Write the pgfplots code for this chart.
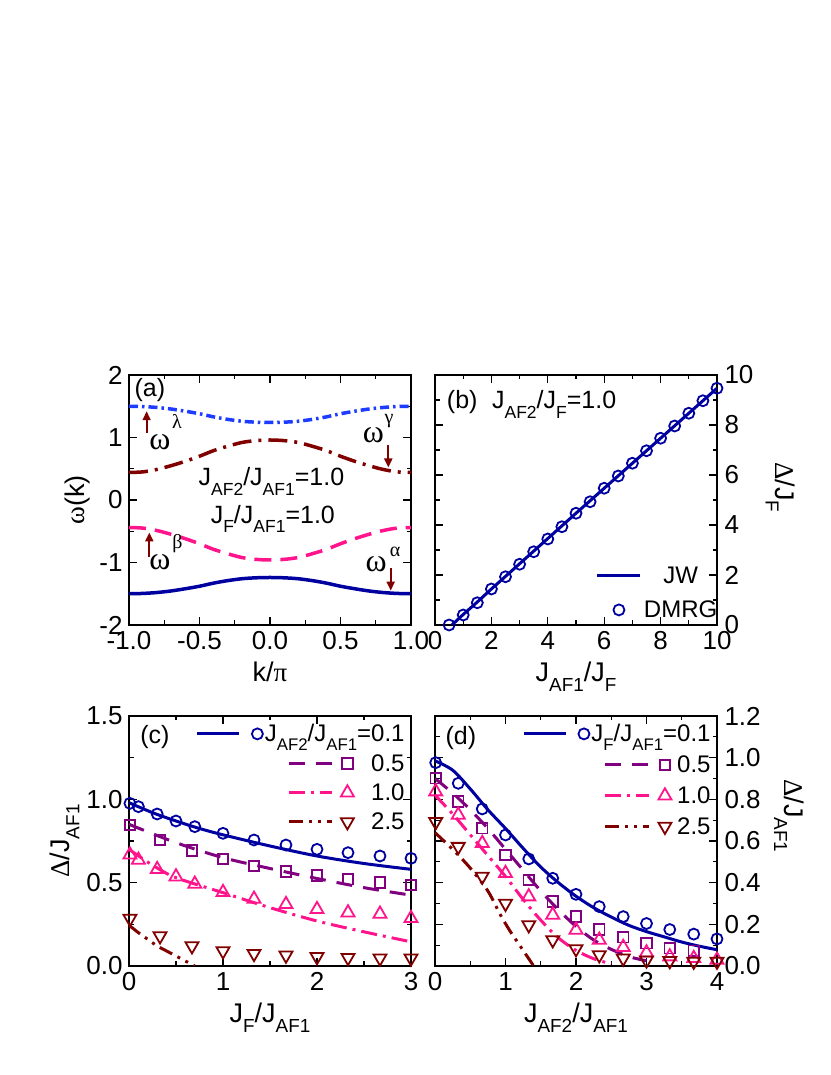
\documentclass[border=0pt]{standalone}
\usepackage{fontspec}
\setmainfont{Liberation Sans}
\newfontfamily\gr{Liberation Serif}
\usepackage{pgfplots}
\pgfplotsset{compat=1.18}
\usetikzlibrary{arrows.meta}
\definecolor{navy}{RGB}{0,0,160}
\definecolor{bblue}{RGB}{30,60,255}
\definecolor{dred}{RGB}{128,0,0}
\definecolor{hpink}{RGB}{255,20,140}
\definecolor{purp}{RGB}{128,0,128}
\newcommand\sub[1]{\raisebox{-0.38em}{\scalebox{0.7}{#1}}}
\newcommand\fs{\fontsize{26}{31}\selectfont}
\newcommand\ft{\fontsize{25}{30}\selectfont}
\newcommand\fg{\fontsize{24}{29}\selectfont}
\newcommand\fl{\fontsize{27}{32}\selectfont}
\pgfplotsset{
  panel/.style={
    scale only axis, width=282pt, height=250pt,
    axis line style={line width=1.6pt},
    tick style={black, line width=1.3pt},
    major tick length=8pt, minor tick length=4.5pt,
    tick align=inside,
    /pgf/number format/assume math mode=true,
    tick label style={font=\fs},
    xticklabel style={yshift=-3pt},
    label style={font=\fl},
    xlabel style={yshift=-5pt},
    legend style={font=\fg, draw=none, fill=none, inner sep=0pt, nodes={inner sep=2pt}},
  },
  onedec/.style={/pgf/number format/fixed, /pgf/number format/fixed zerofill, /pgf/number format/precision=1},
  llabel/.style={yticklabel style={xshift=-3pt},
    every axis y label/.style={at={(axis description cs:#1,0.5)}, rotate=90, anchor=center, font=\fl}},
  rlabel/.style 2 args={yticklabel style={xshift=4pt},
    every axis y label/.style={at={(axis description cs:#1,#2)}, rotate=-90, anchor=center, font=\fl}},
}
\begin{document}
\begin{tikzpicture}[x=1pt,y=1pt]
\path[use as bounding box] (0,0) rectangle (830,1075);
% ---------------- (a)
\begin{axis}[panel, llabel=-0.184, at={(129pt,450pt)}, anchor=south west,
  xmin=-1, xmax=1, ymin=-2, ymax=2,
  xtick={-1,-0.5,0,0.5,1}, ytick={-2,-1,0,1,2},
  minor x tick num=1, minor y tick num=1,
  xticklabel style={onedec},
  xlabel={k/{\gr π}}, ylabel={{\gr ω}(k)}, clip=false]
\addplot[bblue, line width=3.5pt, smooth, dash pattern=on 9pt off 4pt on 2.5pt off 4pt] coordinates {
(-1,1.5)(-0.9,1.495)(-0.8,1.48)(-0.7,1.455)(-0.6,1.42)(-0.5,1.38)(-0.4,1.33)(-0.3,1.29)(-0.2,1.26)(-0.1,1.245)(0,1.24)
(0.1,1.245)(0.2,1.26)(0.3,1.29)(0.4,1.33)(0.5,1.38)(0.6,1.42)(0.7,1.455)(0.8,1.48)(0.9,1.495)(1,1.5)};
\addplot[dred, line width=3.5pt, smooth, dash pattern=on 19pt off 7pt on 3pt off 7pt] coordinates {
(-1,0.44)(-0.9,0.45)(-0.8,0.49)(-0.7,0.55)(-0.6,0.62)(-0.5,0.70)(-0.4,0.79)(-0.3,0.86)(-0.2,0.92)(-0.1,0.95)(0,0.96)
(0.1,0.95)(0.2,0.92)(0.3,0.86)(0.4,0.79)(0.5,0.70)(0.6,0.62)(0.7,0.55)(0.8,0.49)(0.9,0.45)(1,0.44)};
\addplot[hpink, line width=3.5pt, smooth, dash pattern=on 17pt off 9pt] coordinates {
(-1,-0.44)(-0.9,-0.45)(-0.8,-0.49)(-0.7,-0.55)(-0.6,-0.62)(-0.5,-0.70)(-0.4,-0.79)(-0.3,-0.86)(-0.2,-0.92)(-0.1,-0.95)(0,-0.96)
(0.1,-0.95)(0.2,-0.92)(0.3,-0.86)(0.4,-0.79)(0.5,-0.70)(0.6,-0.62)(0.7,-0.55)(0.8,-0.49)(0.9,-0.45)(1,-0.44)};
\addplot[navy, line width=3.5pt, smooth] coordinates {
(-1,-1.5)(-0.9,-1.495)(-0.8,-1.48)(-0.7,-1.455)(-0.6,-1.42)(-0.5,-1.38)(-0.4,-1.33)(-0.3,-1.29)(-0.2,-1.26)(-0.1,-1.245)(0,-1.24)
(0.1,-1.245)(0.2,-1.26)(0.3,-1.29)(0.4,-1.33)(0.5,-1.38)(0.6,-1.42)(0.7,-1.455)(0.8,-1.48)(0.9,-1.495)(1,-1.5)};
\node[font=\ft] at (axis description cs:0.074,0.94) {(a)};
\draw[dred, line width=2pt, -{Triangle[length=9pt,width=8pt]}] (axis cs:-0.875,1.07) -- (axis cs:-0.875,1.42);
\draw[dred, line width=2pt, -{Triangle[length=9pt,width=8pt]}] (axis cs:-0.856,-0.907) -- (axis cs:-0.856,-0.52);
\draw[dred, line width=2pt, -{Triangle[length=9pt,width=8pt]}] (axis cs:0.839,0.88) -- (axis cs:0.839,0.52);
\draw[dred, line width=2pt, -{Triangle[length=9pt,width=8pt]}] (axis cs:0.856,-1.09) -- (axis cs:0.856,-1.45);
\node[font=\fontsize{32}{36}\selectfont\gr, anchor=base] at (axis cs:-0.78,0.8) {ω};
\node[font=\fontsize{20}{24}\selectfont\gr] at (axis cs:-0.66,1.264) {λ};
\node[font=\fontsize{32}{36}\selectfont\gr, anchor=base] at (axis cs:-0.78,-1.12) {ω};
\node[font=\fontsize{20}{24}\selectfont\gr] at (axis cs:-0.656,-0.696) {β};
\node[font=\fontsize{32}{36}\selectfont\gr, anchor=base] at (axis cs:0.734,0.912) {ω};
\node[font=\fontsize{20}{24}\selectfont\gr] at (axis cs:0.844,1.264) {γ};
\node[font=\fontsize{32}{36}\selectfont\gr, anchor=base] at (axis cs:0.752,-1.152) {ω};
\node[font=\fontsize{20}{24}\selectfont\gr] at (axis cs:0.887,-0.824) {α};
\node[font=\ft, anchor=base] at (axis cs:0.01,0.224) {J\sub{AF2}/J\sub{AF1}=1.0};
\node[font=\ft, anchor=base] at (axis cs:0.02,-0.37) {J\sub{F}/J\sub{AF1}=1.0};
\end{axis}
% ---------------- (b)
\begin{axis}[panel, at={(435pt,450pt)}, anchor=south west,
  xmin=0, xmax=10, ymin=0, ymax=10,
  xtick={0,2,4,6,8,10}, ytick={0,2,4,6,8,10},
  minor x tick num=1, minor y tick num=1,
  yticklabel pos=right,
  xlabel={J\sub{AF1}/J\sub{F}}, ylabel={{\gr Δ}/J\sub{F}},
  rlabel={1.225}{0.55},
  legend cell align=center,
  legend style={at={(axis description cs:0.57,0.015)}, anchor=south west, row sep=12pt}]
\addplot[navy, line width=3pt, legend image code/.code={\draw (0pt,0pt) -- (43pt,0pt);}] coordinates {
(0.6,0)(1,0.42)(1.5,0.92)(2,1.44)(3,2.45)(4,3.46)(5,4.47)(6,5.47)(7,6.47)(8,7.47)(9,8.47)(10,9.47)};
\addlegendentry{JW}
\addplot[navy, only marks, mark=o, mark size=5.5pt, line width=1.8pt, legend image code/.code={\draw plot coordinates {(21.5pt,0pt)};}] coordinates {
(0.5,0.0)(1,0.4)(1.5,0.89)(2,1.44)(2.5,1.93)(3,2.43)(3.5,2.93)(4,3.44)(4.5,3.93)(5,4.47)(5.5,4.93)(6,5.47)(6.5,5.96)(7,6.47)(7.5,6.97)(8,7.47)(8.5,7.96)(9,8.47)(9.5,8.97)(10,9.47)};
\addlegendentry{DMRG}
\node[font=\ft, anchor=base west] at (axis description cs:0.03,0.865) {(b)};
\node[font=\ft, anchor=base west] at (axis description cs:0.19,0.865) {J\sub{AF2}/J\sub{F}=1.0};
\end{axis}
% ---------------- (c)
\begin{axis}[panel, llabel=-0.229, at={(129pt,109pt)}, anchor=south west,
  xmin=0, xmax=3, ymin=0, ymax=1.5,
  xtick={0,1,2,3}, ytick={0,0.5,1,1.5},
  minor x tick num=1, minor y tick num=1,
  yticklabel style={onedec},
  xlabel={J\sub{F}/J\sub{AF1}}, ylabel={{\gr Δ}/J\sub{AF1}},
  legend cell align=right,
  legend style={at={(axis description cs:0.985,0.975)}, anchor=north east, row sep=7pt}]
\addplot[navy, line width=3pt, smooth, forget plot] coordinates {
(0,0.98)(0.25,0.92)(0.5,0.87)(0.75,0.825)(1,0.787)(1.5,0.72)(2,0.66)(2.5,0.615)(3,0.58)};
\addplot[purp, line width=3pt, smooth, forget plot, dash pattern=on 16pt off 11pt] coordinates {
(0,0.85)(0.5,0.74)(1,0.65)(1.5,0.585)(2,0.525)(2.5,0.47)(3,0.425)};
\addplot[hpink, line width=3pt, smooth, forget plot, dash pattern=on 16pt off 6pt on 3pt off 6pt] coordinates {
(0,0.70)(0.25,0.605)(0.5,0.53)(1,0.44)(1.5,0.35)(2,0.27)(2.5,0.205)(3,0.145)};
\addplot[dred, line width=3pt, smooth, forget plot, dash pattern=on 14pt off 6pt on 3pt off 6pt on 3pt off 6pt] coordinates {
(0,0.245)(0.1,0.2)(0.2,0.16)(0.3,0.12)(0.4,0.09)(0.5,0.06)(0.6,0.03)(0.7,0.0)};
\addplot[navy, only marks, mark=o, mark size=5.5pt, line width=1.8pt,
  legend image code/.code={\draw[line width=3pt] (0pt,0pt) -- (42pt,0pt); \draw plot coordinates {(60pt,0pt)};}] coordinates {
(0.01,0.976)(0.1,0.956)(0.3,0.912)(0.5,0.870)(0.7,0.836)(1.0,0.796)(1.33,0.756)(1.67,0.726)(2.0,0.700)(2.33,0.680)(2.67,0.660)(3.0,0.646)};
\addlegendentry{J\sub{AF2}/J\sub{AF1}=0.1}
\addplot[purp, only marks, mark=square, mark size=5.3pt, line width=1.8pt,
  legend image code/.code={\begin{scope}[overlay]\draw[line width=3pt, dash pattern=on 16pt off 11pt] (92pt,0pt) -- (135pt,0pt); \draw plot coordinates {(150pt,0pt)};\end{scope}}] coordinates {
(0.01,0.846)(0.33,0.756)(0.67,0.692)(1.0,0.642)(1.33,0.600)(1.67,0.566)(2.0,0.542)(2.33,0.521)(2.67,0.501)(3.0,0.486)};
\addlegendentry{0.5}
\addplot[hpink, only marks, mark=triangle, mark size=7.5pt, line width=1.8pt,
  legend image code/.code={\begin{scope}[overlay]\draw[line width=3pt, dash pattern=on 16pt off 6pt on 3pt off 6pt] (92pt,0pt) -- (135pt,0pt); \draw plot coordinates {(150pt,0pt)};\end{scope}}] coordinates {
(0.01,0.667)(0.1,0.636)(0.3,0.58)(0.5,0.536)(0.7,0.492)(1.0,0.442)(1.33,0.402)(1.67,0.37)(2.0,0.34)(2.33,0.32)(2.67,0.312)(3.0,0.286)};
\addlegendentry{1.0}
\addplot[dred, only marks, mark=triangle, mark options={rotate=180}, mark size=7.5pt, line width=1.8pt,
  legend image code/.code={\begin{scope}[overlay]\draw[line width=3pt, dash pattern=on 14pt off 6pt on 3pt off 6pt on 3pt off 6pt] (92pt,0pt) -- (135pt,0pt); \draw plot coordinates {(150pt,0pt)};\end{scope}}] coordinates {
(0.01,0.285)(0.33,0.18)(0.67,0.12)(1.0,0.09)(1.33,0.074)(1.67,0.064)(2.0,0.055)(2.33,0.05)(2.67,0.047)(3.0,0.047)};
\addlegendentry{2.5}
\node[font=\ft] at (axis description cs:0.092,0.916) {(c)};
\end{axis}
% ---------------- (d)
\begin{axis}[panel, at={(435pt,109pt)}, anchor=south west,
  xmin=0, xmax=4, ymin=0, ymax=1.2,
  xtick={0,1,2,3,4}, ytick={0,0.2,0.4,0.6,0.8,1.0,1.2},
  minor x tick num=1, minor y tick num=1,
  yticklabel pos=right,
  yticklabel style={onedec},
  xlabel={J\sub{AF2}/J\sub{AF1}}, ylabel={{\gr Δ}/J\sub{AF1}},
  rlabel={1.255}{0.6},
  legend cell align=right,
  legend style={at={(axis description cs:0.985,0.975)}, anchor=north east, row sep=8.5pt}]
\addplot[navy, line width=3pt, smooth, forget plot] coordinates {
(0,0.985)(0.25,0.94)(0.5,0.85)(0.75,0.75)(1,0.66)(1.25,0.565)(1.5,0.475)(1.75,0.40)(2,0.335)(2.25,0.28)(2.5,0.235)(2.75,0.195)(3,0.165)(3.25,0.14)(3.5,0.115)(3.75,0.095)(4,0.078)};
\addplot[purp, line width=3pt, smooth, forget plot, dash pattern=on 16pt off 11pt] coordinates {
(0,0.90)(0.25,0.83)(0.5,0.75)(0.75,0.66)(1,0.56)(1.25,0.46)(1.5,0.36)(1.75,0.27)(2,0.19)(2.25,0.125)(2.5,0.08)(2.75,0.045)(3.0,0.025)};
\addplot[hpink, line width=3pt, smooth, forget plot, dash pattern=on 16pt off 6pt on 3pt off 6pt] coordinates {
(0,0.82)(0.25,0.73)(0.5,0.63)(0.75,0.53)(1,0.43)(1.25,0.32)(1.5,0.22)(1.75,0.135)(2,0.075)(2.25,0.035)(2.5,0.01)};
\addplot[dred, line width=3pt, smooth, forget plot, dash pattern=on 14pt off 6pt on 3pt off 6pt on 3pt off 6pt] coordinates {
(0,0.64)(0.25,0.56)(0.5,0.47)(0.75,0.36)(0.92,0.25)(1.06,0.17)(1.15,0.125)(1.3,0.05)(1.4,0.0)};
\addplot[navy, only marks, mark=o, mark size=5.5pt, line width=1.8pt,
  legend image code/.code={\draw[line width=3pt] (0pt,0pt) -- (42pt,0pt); \draw plot coordinates {(60pt,0pt)};}] coordinates {
(0.01,0.976)(0.33,0.877)(0.67,0.754)(1.0,0.629)(1.33,0.514)(1.67,0.421)(2.0,0.344)(2.33,0.285)(2.67,0.237)(3.0,0.204)(3.33,0.175)(3.67,0.153)(4.0,0.13)};
\addlegendentry{J\sub{F}/J\sub{AF1}=0.1}
\addplot[purp, only marks, mark=square, mark size=5.3pt, line width=1.8pt,
  legend image code/.code={\begin{scope}[overlay]\draw[line width=3pt, dash pattern=on 16pt off 11pt] (81pt,0pt) -- (125pt,0pt); \draw plot coordinates {(141pt,0pt)};\end{scope}}] coordinates {
(0.01,0.901)(0.33,0.789)(0.67,0.661)(1.0,0.533)(1.33,0.413)(1.67,0.309)(2.0,0.237)(2.33,0.176)(2.67,0.138)(3.0,0.109)(3.33,0.085)(3.67,0.073)};
\addlegendentry{0.5}
\addplot[hpink, only marks, mark=triangle, mark size=7.5pt, line width=1.8pt,
  legend image code/.code={\begin{scope}[overlay]\draw[line width=3pt, dash pattern=on 16pt off 6pt on 3pt off 6pt] (81pt,0pt) -- (125pt,0pt); \draw plot coordinates {(141pt,0pt)};\end{scope}}] coordinates {
(0.01,0.837)(0.33,0.725)(0.67,0.589)(1.0,0.445)(1.33,0.333)(1.67,0.245)(2.0,0.173)(2.33,0.125)(2.67,0.09)(3.0,0.064)(3.33,0.045)(3.67,0.037)(4.0,0.029)};
\addlegendentry{1.0}
\addplot[dred, only marks, mark=triangle, mark options={rotate=180}, mark size=7.5pt, line width=1.8pt,
  legend image code/.code={\begin{scope}[overlay]\draw[line width=3pt, dash pattern=on 14pt off 6pt on 3pt off 6pt on 3pt off 6pt] (81pt,0pt) -- (125pt,0pt); \draw plot coordinates {(141pt,0pt)};\end{scope}}] coordinates {
(0.01,0.692)(0.33,0.573)(0.67,0.43)(1.0,0.30)(1.33,0.197)(1.67,0.125)(2.0,0.082)(2.33,0.053)(2.67,0.037)(3.0,0.028)(3.33,0.025)(3.67,0.022)(4.0,0.022)};
\addlegendentry{2.5}
\node[font=\ft] at (axis description cs:0.092,0.912) {(d)};
\end{axis}
\end{tikzpicture}
\end{document}
